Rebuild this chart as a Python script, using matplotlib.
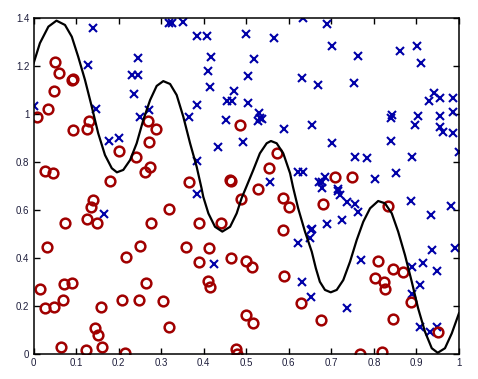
import matplotlib
matplotlib.use('Agg')
import numpy as np
from matplotlib import pyplot as plt

# positive class (blue crosses)
pos_x = [0.002, 0.140, 0.129, 0.147, 0.177, 0.202, 0.246, 0.232, 0.246, 0.237,
         0.250, 0.272, 0.318, 0.326, 0.351, 0.3835, 0.4085, 0.499, 0.565, 0.633,
         0.417, 0.518, 0.411, 0.505, 0.630, 0.668, 0.415, 0.471, 0.454, 0.466,
         0.505, 0.3835, 0.365, 0.530, 0.532, 0.536, 0.528, 0.452, 0.589, 0.654,
         0.434, 0.493, 0.3835, 0.621, 0.633, 0.556, 0.672, 0.166, 0.385, 0.425,
         0.651, 0.654, 0.650, 0.622, 0.632, 0.651, 0.689, 0.702, 0.762, 0.861,
         0.902, 0.910, 0.753, 0.941, 0.930, 0.955, 0.987, 0.985, 0.955, 0.904,
         0.897, 0.955, 0.962, 0.987, 0.843, 0.840, 0.840, 1.000, 0.702, 0.756,
         0.783, 0.890, 0.852, 0.803, 0.685, 0.679, 0.715, 0.679, 0.715, 0.720,
         0.736, 0.756, 0.762, 0.689, 0.724, 0.887, 0.981, 0.934, 0.937, 0.991,
         0.769, 0.889, 0.915, 0.949, 0.908, 0.889, 0.736, 0.908, 0.932, 0.949]
pos_y = [1.033, 1.357, 1.204, 1.020, 0.887, 0.900, 1.232, 1.163, 1.163, 1.082,
         0.989, 1.017, 1.380, 1.380, 1.385, 1.326, 1.325, 1.332, 1.315, 1.399,
         1.239, 1.228, 1.179, 1.160, 1.149, 1.121, 1.114, 1.097, 1.054, 1.054,
         1.044, 1.038, 0.989, 1.003, 0.982, 0.978, 0.971, 0.975, 0.938, 0.954,
         0.864, 0.882, 0.805, 0.757, 0.757, 0.718, 0.718, 0.582, 0.667, 0.374,
         0.517, 0.520, 0.482, 0.461, 0.301, 0.239, 1.375, 1.283, 1.243, 1.263,
         1.283, 1.211, 1.128, 1.086, 1.054, 1.065, 1.068, 1.010, 0.992, 0.992,
         0.954, 0.947, 0.926, 0.922, 0.996, 0.982, 0.888, 0.843, 0.878, 0.819,
         0.815, 0.822, 0.756, 0.729, 0.736, 0.718, 0.688, 0.690, 0.680, 0.663,
         0.635, 0.625, 0.593, 0.540, 0.558, 0.638, 0.617, 0.579, 0.433, 0.440,
         0.392, 0.364, 0.378, 0.346, 0.288, 0.249, 0.190, 0.111, 0.093, 0.114]

# negative class (red circles)
neg_x = [0.051, 0.061, 0.090, 0.092, 0.049, 0.033, 0.008, 0.130, 0.125, 0.092,
         0.201, 0.240, 0.270, 0.287, 0.272, 0.274, 0.262, 0.027, 0.047, 0.180,
         0.141, 0.134, 0.125, 0.150, 0.073, 0.318, 0.275, 0.031, 0.250, 0.217,
         0.015, 0.072, 0.090, 0.264, 0.070, 0.209, 0.249, 0.305, 0.027, 0.048,
         0.159, 0.318, 0.145, 0.152, 0.065, 0.162, 0.123, 0.215, 0.485, 0.572,
         0.554, 0.366, 0.462, 0.464, 0.527, 0.488, 0.389, 0.440, 0.587, 0.600,
         0.587, 0.358, 0.413, 0.389, 0.464, 0.499, 0.513, 0.411, 0.415, 0.589,
         0.628, 0.499, 0.517, 0.676, 0.476, 0.479, 0.709, 0.749, 0.681, 0.832,
         0.809, 0.846, 0.868, 0.803, 0.824, 0.826, 0.887, 0.846, 0.951, 0.767,
         0.818]
neg_y = [1.215, 1.169, 1.142, 1.146, 1.097, 1.021, 0.989, 0.971, 0.938, 0.933,
         0.847, 0.822, 0.972, 0.938, 0.882, 0.780, 0.760, 0.764, 0.753, 0.722,
         0.642, 0.611, 0.561, 0.547, 0.544, 0.603, 0.544, 0.445, 0.450, 0.405,
         0.270, 0.293, 0.297, 0.297, 0.225, 0.225, 0.225, 0.222, 0.190, 0.195,
         0.197, 0.114, 0.110, 0.079, 0.028, 0.030, 0.017, 0.003, 0.954, 0.839,
         0.774, 0.718, 0.725, 0.720, 0.686, 0.644, 0.544, 0.544, 0.649, 0.611,
         0.517, 0.445, 0.440, 0.385, 0.399, 0.389, 0.361, 0.305, 0.278, 0.326,
         0.211, 0.163, 0.130, 0.143, 0.019, 0.000, 0.739, 0.736, 0.625, 0.617,
         0.389, 0.353, 0.340, 0.318, 0.301, 0.270, 0.215, 0.144, 0.093, 0.000,
         0.007]

# decision boundary
bound_x = [0.000, 0.015, 0.035, 0.054, 0.074, 0.090, 0.105, 0.121, 0.137, 0.152,
           0.168, 0.184, 0.196, 0.211, 0.227, 0.2425, 0.258, 0.274, 0.2895, 0.305,
           0.321, 0.3365, 0.352, 0.368, 0.3835, 0.395, 0.399, 0.411, 0.4266, 0.4437,
           0.462, 0.4775, 0.489, 0.501, 0.5166, 0.532, 0.548, 0.558, 0.5715, 0.587,
           0.603, 0.610, 0.622, 0.638, 0.654, 0.6636, 0.673, 0.685, 0.6985, 0.7126,
           0.728, 0.744, 0.7596, 0.775, 0.791, 0.810, 0.826, 0.842, 0.857, 0.873,
           0.889, 0.904, 0.920, 0.936, 0.950, 0.967, 0.983, 1.000]
bound_y = [1.210, 1.295, 1.364, 1.389, 1.371, 1.322, 1.239, 1.142, 1.030, 0.920,
           0.829, 0.774, 0.757, 0.767, 0.808, 0.878, 0.975, 1.058, 1.117, 1.137,
           1.125, 1.079, 0.989, 0.878, 0.780, 0.690, 0.655, 0.586, 0.530, 0.510,
           0.530, 0.586, 0.649, 0.700, 0.767, 0.836, 0.878, 0.8875, 0.878, 0.836,
           0.753, 0.695, 0.607, 0.510, 0.426, 0.357, 0.301, 0.267, 0.257, 0.267,
           0.308, 0.385, 0.475, 0.551, 0.607, 0.6375, 0.628, 0.586, 0.510, 0.4125,
           0.301, 0.190, 0.093, 0.024, 0.005, 0.024, 0.086, 0.170]

xticks = np.round(np.arange(0, 1.01, 0.1), 1)
yticks = np.round(np.arange(0, 1.41, 0.2), 1)


def fmt(v):
    return '%g' % v


fig = plt.figure(figsize=(4.78, 3.79), dpi=100)
ax = fig.add_axes([33.5 / 478, 25 / 379, 425.5 / 478, 336 / 379])

ax.plot(pos_x, pos_y, 'x', color='#0000a8', markersize=6, markeredgewidth=1.5)
ax.plot(neg_x, neg_y, 'o', color='#a00000', markerfacecolor='none',
        markersize=7, markeredgewidth=1.8)
ax.plot(bound_x, bound_y, '-', color='black', linewidth=1.6)

ax.set_xlim(0, 1)
ax.set_ylim(0, 1.4)
ax.set_xticks(xticks)
ax.set_yticks(yticks)
ax.set_xticklabels([fmt(v) for v in xticks], fontsize=7, family='Liberation Sans', color='#1c1c3a')
ax.set_yticklabels([fmt(v) for v in yticks], fontsize=7, family='Liberation Sans', color='#1c1c3a')
ax.tick_params(direction='in', top=True, right=True, length=4, width=1.0, pad=3)
for s in ax.spines.values():
    s.set_linewidth(1.1)

fig.savefig('out.png', dpi=100)
